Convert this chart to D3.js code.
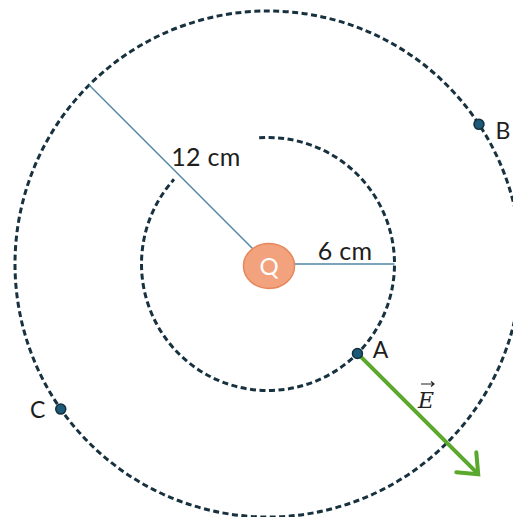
<!DOCTYPE html>
<html><head><meta charset="utf-8">
<script src="https://cdn.jsdelivr.net/npm/d3@7"></script>
<style>html,body{margin:0;padding:0;background:#fff;}svg{display:block;}</style>
</head><body>
<script>
// Data
const radiiCm = [6, 12];                  // equipotential circles
const radiusLabels = ["6 cm", "12 cm"];
const radiusAngles = [0, 135];            // degrees of radius lines
const pointNames = ["A", "B", "C"];
const pointRadiusCm = [6, 12, 12];
const pointAngles = [-45, 33.5, 215];     // degrees (math convention)
const fieldLengthCm = 8.1;                // length of E arrow from A
const chargeLabel = "Q";

const W = 513, H = 517;
const cx = 268, cy = 264;
const r = d3.scaleLinear().domain([0, 12]).range([0, 253]);
const rad = d => d * Math.PI / 180;
const px = (rc, a) => cx + r(rc) * Math.cos(rad(a));
const py = (rc, a) => cy - r(rc) * Math.sin(rad(a));

const svg = d3.select("body").append("svg").attr("width", W).attr("height", H);
const font = "Lato, 'Open Sans', sans-serif";

const dashColor = "#17313f";
// outer circle
svg.append("circle").attr("cx", cx).attr("cy", cy).attr("r", r(radiiCm[1]))
  .attr("fill", "none").attr("stroke", dashColor).attr("stroke-width", 3)
  .attr("stroke-dasharray", "6,3.5");
// inner circle with a gap between 94deg and 138deg
const p = d3.path();
p.arc(cx, cy, r(radiiCm[0]), rad(-94), rad(-138), false);
svg.append("path").attr("d", p.toString())
  .attr("fill", "none").attr("stroke", dashColor).attr("stroke-width", 3)
  .attr("stroke-dasharray", "6,3.5");

// radius lines
radiiCm.forEach((rc, i) => {
  svg.append("line").attr("x1", cx).attr("y1", cy)
    .attr("x2", px(rc, radiusAngles[i])).attr("y2", py(rc, radiusAngles[i]))
    .attr("stroke", "#4f86a6").attr("stroke-width", 1.4);
});
svg.append("text").attr("x", 345).attr("y", 260).attr("text-anchor", "middle")
  .attr("font-family", font).attr("font-size", 25).attr("letter-spacing", 0.3).attr("fill", "#1e1e1e")
  .text(radiusLabels[0]);
svg.append("text").attr("x", 206).attr("y", 166).attr("text-anchor", "middle")
  .attr("font-family", font).attr("font-size", 25).attr("letter-spacing", 0.3).attr("fill", "#1e1e1e")
  .text(radiusLabels[1]);

// field arrow from A
const ax = px(pointRadiusCm[0], pointAngles[0]), ay = py(pointRadiusCm[0], pointAngles[0]);
const ex = px(pointRadiusCm[0] + fieldLengthCm, pointAngles[0]), ey = py(pointRadiusCm[0] + fieldLengthCm, pointAngles[0]);
const green = "#5aa82c";
svg.append("line").attr("x1", ax).attr("y1", ay).attr("x2", ex - 2).attr("y2", ey - 2)
  .attr("stroke", green).attr("stroke-width", 4);
const hl = 22, ha = rad(40);
const tipX = ex, tipY = ey;
const back = Math.atan2(ay - ey, ax - ex);
const h1 = [tipX + hl * Math.cos(back + ha), tipY + hl * Math.sin(back + ha)];
const h2 = [tipX + hl * Math.cos(back - ha), tipY + hl * Math.sin(back - ha)];
svg.append("path").attr("d", `M${h1[0]},${h1[1]}L${tipX},${tipY}L${h2[0]},${h2[1]}`)
  .attr("fill", "none").attr("stroke", green).attr("stroke-width", 4)
  .attr("stroke-linecap", "round").attr("stroke-linejoin", "miter");
// E label
const eg = svg.append("g");
eg.append("text").attr("x", 426).attr("y", 408).attr("text-anchor", "middle")
  .attr("font-family", "DejaVu Serif, serif").attr("font-style", "italic").attr("font-size", 22)
  .attr("fill", "#222").text("E");
eg.append("path").attr("d", "M421,384 L434,384 M431,381.5 L434,384 L431,386.5")
  .attr("fill", "none").attr("stroke", "#222").attr("stroke-width", 1.2);

// charge Q
svg.append("ellipse").attr("cx", 269).attr("cy", 266).attr("rx", 25.5).attr("ry", 22.5)
  .attr("fill", "#f2a27d").attr("stroke", "#e8875c").attr("stroke-width", 1.5);
svg.append("text").attr("x", 269).attr("y", 275).attr("text-anchor", "middle")
  .attr("font-family", font).attr("font-size", 24).attr("fill", "#fff")
  .text(chargeLabel);

// points
const labelOffsets = [[23, -3], [24, 7], [-23, 1]];
pointNames.forEach((n, i) => {
  const x = px(pointRadiusCm[i], pointAngles[i]), y = py(pointRadiusCm[i], pointAngles[i]);
  svg.append("circle").attr("cx", x).attr("cy", y).attr("r", 5)
    .attr("fill", "#1d5a78").attr("stroke", "#14303e").attr("stroke-width", 1.5);
  svg.append("text").attr("x", x + labelOffsets[i][0]).attr("y", y + labelOffsets[i][1] + 8)
    .attr("text-anchor", "middle").attr("font-family", font)
    .attr("font-size", 23).attr("fill", "#1e1e1e").text(n);
});
</script>
</body></html>
